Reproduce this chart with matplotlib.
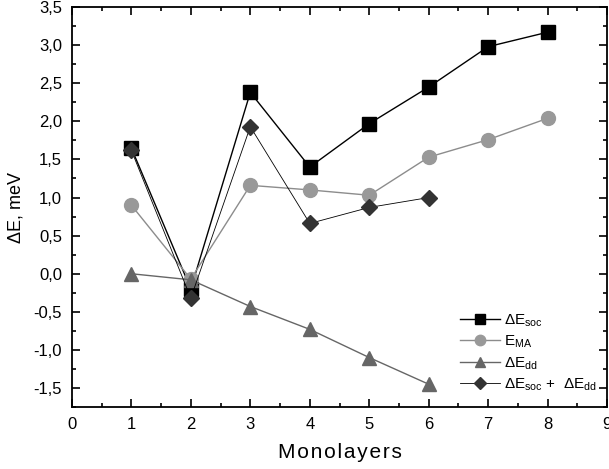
import matplotlib
matplotlib.use("Agg")
from matplotlib import pyplot as plt
from matplotlib.ticker import MultipleLocator, FuncFormatter

plt.rcParams["font.family"] = ["Liberation Sans", "DejaVu Sans"]
plt.rcParams["mathtext.fontset"] = "custom"
plt.rcParams["mathtext.rm"] = "Liberation Sans"

monolayers = [1, 2, 3, 4, 5, 6, 7, 8]
e_soc = [1.65, -0.20, 2.38, 1.40, 1.97, 2.45, 2.98, 3.17]
e_ma = [0.90, -0.07, 1.16, 1.10, 1.03, 1.53, 1.76, 2.04]
monolayers_short = [1, 2, 3, 4, 5, 6]
e_dd = [0.0, -0.08, -0.43, -0.73, -1.10, -1.45]
e_sum = [1.62, -0.32, 1.93, 0.66, 0.87, 1.00]

fig = plt.figure(figsize=(6.09, 4.69), dpi=100)
ax = fig.add_axes([0.118, 0.132, 0.879, 0.853])

ax.plot(monolayers, e_soc, color="black", marker="s", markersize=9.5,
        linewidth=1.0, label=r"$\Delta$E$_{\rm soc}$")
ax.plot(monolayers, e_ma, color="#8c8c8c", marker="o", markersize=10,
        markerfacecolor="#999999", markeredgecolor="#999999",
        linewidth=1.0, label=r"E$_{\rm MA}$")
ax.plot(monolayers_short, e_dd, color="#666666", marker="^", markersize=10,
        linewidth=1.0, label=r"$\Delta$E$_{\rm dd}$")
ax.plot(monolayers_short, e_sum, color="black", marker="D", markersize=8,
        markerfacecolor="#333333", markeredgecolor="#333333",
        linewidth=0.6, label=r"$\Delta$E$_{\rm soc}$ +  $\Delta$E$_{\rm dd}$")

ax.set_xlim(0, 9)
ax.set_ylim(-1.75, 3.5)
ax.xaxis.set_major_locator(MultipleLocator(1))
ax.xaxis.set_minor_locator(MultipleLocator(0.5))
ax.yaxis.set_major_locator(MultipleLocator(0.5))
ax.yaxis.set_minor_locator(MultipleLocator(0.25))
ax.yaxis.set_major_formatter(FuncFormatter(lambda v, p: f"{v:.1f}".replace(".", ",")))
ax.tick_params(which="both", direction="in", top=True, right=True,
               labelsize=12, width=1.2)
ax.tick_params(which="major", length=6, pad=7)
ax.tick_params(which="minor", length=3)
for s in ax.spines.values():
    s.set_linewidth(1.3)

ax.set_xlabel("M o n o l a y e r s".replace(" ", "\u200a"), fontsize=15, labelpad=8)
ax.set_ylabel(r"$\Delta$E, meV", fontsize=13, labelpad=6)

ax.legend(loc="lower right", bbox_to_anchor=(0.993, 0.02), borderaxespad=0,
          frameon=False, fontsize=11, handlelength=2.6,
          labelspacing=0.3, handletextpad=0.3, markerscale=0.75)

fig.savefig("out.png", dpi=100)
